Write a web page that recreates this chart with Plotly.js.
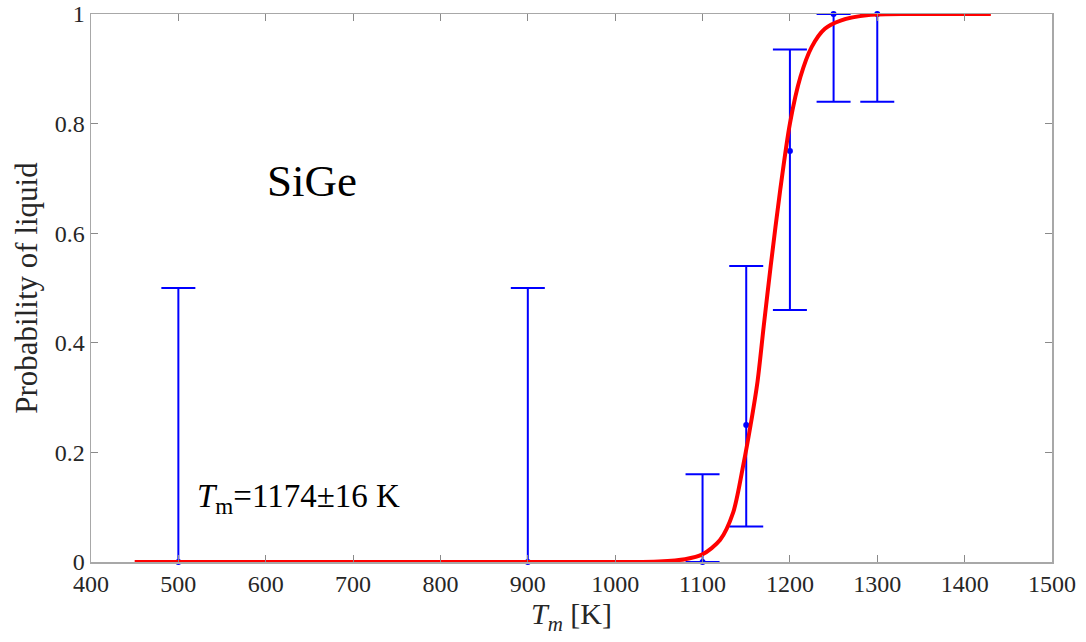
<!DOCTYPE html>
<html>
<head>
<meta charset="utf-8">
<script src="https://cdn.plot.ly/plotly-3.0.1.min.js"></script>
<style>html,body{margin:0;padding:0;background:#fff;}#chart{width:1086px;height:642px;}</style>
</head>
<body>
<div id="chart"></div>
<script>
// Measured points with error bars
var tempPoints = [500, 900, 1100, 1150, 1200, 1250, 1300];
var probValues = [0, 0, 0, 0.25, 0.75, 1, 1];
var upperBounds = [0.5, 0.5, 0.16, 0.54, 0.935, 1, 1];
var lowerBounds = [0, 0, 0, 0.065, 0.46, 0.84, 0.84];

// Fitted curve
var fitTemps = [450, 1000, 1050, 1080, 1100, 1120, 1135, 1147, 1155, 1163, 1170, 1178, 1189, 1200, 1212, 1225, 1240, 1258, 1290, 1340, 1430];
var fitProbs = [0, 0, 0.001, 0.005, 0.014, 0.04, 0.09, 0.18, 0.25, 0.33, 0.43, 0.54, 0.68, 0.80, 0.885, 0.94, 0.973, 0.988, 0.998, 1, 1];

var xTicks = [400, 500, 600, 700, 800, 900, 1000, 1100, 1200, 1300, 1400, 1500];
var yTicks = [0, 0.2, 0.4, 0.6, 0.8, 1];
var yTickText = ['0', '0.2', '0.4', '0.6', '0.8', '1'];

var plus = upperBounds.map(function(u, i){ return u - probValues[i]; });
var minus = lowerBounds.map(function(l, i){ return probValues[i] - l; });

var traces = [
  {
    x: tempPoints, y: probValues, type: 'scatter', mode: 'markers',
    marker: {color: '#0000ff', size: 6},
    cliponaxis: false,
    error_y: {type: 'data', symmetric: false, array: plus, arrayminus: minus,
              color: '#0000ff', thickness: 2, width: 17},
    showlegend: false, hoverinfo: 'skip'
  },
  {
    x: fitTemps, y: fitProbs, type: 'scatter', mode: 'lines',
    line: {color: '#ff0000', width: 4, shape: 'spline', smoothing: 0.8},
    cliponaxis: false,
    showlegend: false, hoverinfo: 'skip'
  }
];

var serif = 'Liberation Serif, Times New Roman, serif';
var layout = {
  width: 1086, height: 642,
  margin: {l: 91, r: 34, t: 14, b: 80},
  paper_bgcolor: '#fff', plot_bgcolor: '#fff',
  font: {family: serif, color: '#262626', size: 24},
  xaxis: {
    range: [400, 1500], tickvals: xTicks, ticktext: xTicks.map(String),
    showgrid: false, zeroline: false, showline: true, mirror: 'ticks',
    linecolor: '#a8a8a8', linewidth: 1.5, ticks: 'inside', ticklen: 7, tickcolor: '#8a8a8a', tickwidth: 1,
    tickfont: {family: serif, size: 24, color: '#262626'},
    title: {text: '<i>T<sub>m</sub></i> [K]', font: {family: serif, size: 30, color: '#262626'}, standoff: 2}
  },
  yaxis: {
    range: [0, 1], tickvals: yTicks, ticktext: yTickText,
    showgrid: false, zeroline: false, showline: true, mirror: 'ticks',
    linecolor: '#a8a8a8', linewidth: 1.5, ticks: 'inside', ticklen: 7, tickcolor: '#8a8a8a', tickwidth: 1,
    tickfont: {family: serif, size: 24, color: '#262626'},
    title: {text: 'Probability of liquid', font: {family: serif, size: 31, color: '#262626'}, standoff: 8}
  },
  annotations: [
    {x: 653, y: 0.695, xref: 'x', yref: 'y', text: 'SiGe', showarrow: false,
     font: {family: serif, size: 45, color: '#000'}, xanchor: 'center', yanchor: 'middle'},
    {x: 519, y: 0.115, xref: 'x', yref: 'y', text: '<i>T</i><sub>m</sub>=1174±16 K', showarrow: false,
     font: {family: serif, size: 33, color: '#000'}, xanchor: 'left', yanchor: 'middle'}
  ]
};

Plotly.newPlot('chart', traces, layout, {displayModeBar: false, staticPlot: true});
</script>
</body>
</html>
